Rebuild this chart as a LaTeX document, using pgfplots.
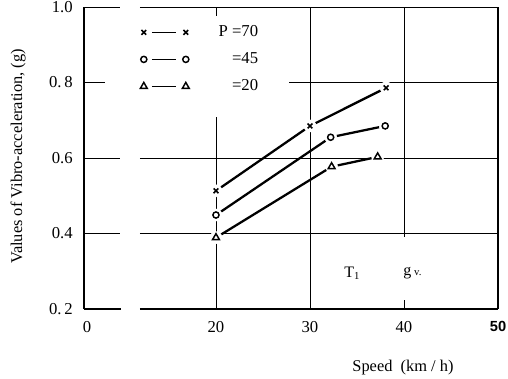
\documentclass[border=0pt]{standalone}
\usepackage{fontspec}
\setmainfont{Liberation Serif}
\setsansfont{Liberation Sans}
\usepackage{pgfplots}
\pgfplotsset{compat=1.18}
\pgfplotsset{myleg/.style={legend image code/.code={
  \draw[line width=1.2pt] (6pt,0pt) -- (24.5pt,0pt);
  \draw[##1] plot[only marks] coordinates {(0pt,0pt) (31.5pt,0pt)};}}}
\begin{document}
\begin{tikzpicture}
\begin{axis}[
  scale only axis, width=310.5pt, height=226.5pt,
  xmin=5.96, xmax=50, ymin=0.2, ymax=1.0,
  axis line style={draw=none},
  clip=false,
  major tick length=0pt,
  xtick={6.28,20,30,40,50},
  xticklabels={0,20,30,40,{\fontsize{11}{13}\sffamily\bfseries 50}},
  ytick={0.2,0.4,0.6,0.8,1.0},
  yticklabels={0.\,2,0.4,0.6,0.\,8,1.0},
  tick label style={font=\fontsize{12.5}{14}\selectfont},
  xticklabel style={yshift=-6pt},
  yticklabel style={xshift=-5pt},
  xlabel={Speed\ \ (km\ /\ h)},
  ylabel={Values of Vibro-acceleration,\ (g)},
  label style={font=\fontsize{12.3}{14}\selectfont},
  xlabel style={at={(rel axis cs:0.7705,-0.1954)}, anchor=center},
  ylabel style={at={(rel axis cs:-0.1594,0.505)}, anchor=center},
  legend style={draw=none, fill=none, at={(axis cs:11.5,0.965)}, anchor=north west,
    row sep=6.5pt, column sep=20pt, font=\fontsize{12.5}{14}\selectfont, cells={anchor=west}},
]
% frame and grid
\draw[line width=1pt] (axis cs:5.96,0.2) -- (axis cs:5.96,1.0);
\draw[line width=1pt] (axis cs:50,0.2) -- (axis cs:50,1.0);
\draw[line width=1pt] (axis cs:5.96,0.2) -- (axis cs:9.9,0.2);
\draw[line width=1pt] (axis cs:11.91,0.2) -- (axis cs:50,0.2);
\draw[line width=0.7pt] (axis cs:5.96,1.0) -- (axis cs:9.79,1.0);
\draw[line width=0.7pt] (axis cs:11.91,1.0) -- (axis cs:50,1.0);
\draw[line width=0.6pt] (axis cs:5.96,0.8) -- (axis cs:8.19,0.8);
\draw[line width=0.6pt] (axis cs:27.77,0.8) -- (axis cs:50,0.8);
\draw[line width=0.6pt] (axis cs:5.96,0.6) -- (axis cs:9.79,0.6);
\draw[line width=0.6pt] (axis cs:11.91,0.6) -- (axis cs:50,0.6);
\draw[line width=0.6pt] (axis cs:5.96,0.4) -- (axis cs:9.79,0.4);
\draw[line width=0.6pt] (axis cs:11.91,0.4) -- (axis cs:50,0.4);
\draw[line width=0.6pt] (axis cs:20,0.2) -- (axis cs:20,0.709);
\draw[line width=0.6pt] (axis cs:20,1.0) -- (axis cs:20,0.975);
\draw[line width=0.6pt] (axis cs:30,0.2) -- (axis cs:30,1.0);
\draw[line width=0.6pt] (axis cs:40,1.0) -- (axis cs:40,0.39);
\draw[line width=0.6pt] (axis cs:40,0.2) -- (axis cs:40,0.224);
% lines
\addplot[line width=1.7pt, forget plot] coordinates {(20,0.513) (30,0.685) (38.1,0.786)};
\addplot[line width=1.7pt, forget plot] coordinates {(20,0.449) (32.2,0.655) (38.0,0.685)};
\addplot[line width=1.7pt, forget plot] coordinates {(20,0.389) (32.3,0.577) (37.2,0.603)};
% gaps
\addplot[only marks, mark=*, mark size=4.5pt, white, forget plot] coordinates {
 (20,0.513) (30,0.685) (38.1,0.786)
 (20,0.449) (32.2,0.655) (38.0,0.685)
 (20,0.389) (32.3,0.577) (37.2,0.603)};
% marks
\addplot[only marks, mark=x, mark size=2.5pt, line width=1.2pt, myleg] coordinates {(20,0.513) (30,0.685) (38.1,0.786)};
\addplot[only marks, mark=o, mark size=2.3pt, line width=1.1pt, myleg] coordinates {(20,0.449) (32.2,0.655) (38.0,0.685)};
\addplot[only marks, mark=triangle, mark size=3pt, line width=1.1pt, myleg] coordinates {(20,0.389) (32.3,0.577) (37.2,0.603)};
\legend{P\ =70,\phantom{P\ }=45,\phantom{P\ }=20}
\node[font=\fontsize{12}{14}\selectfont] at (axis cs:34.5,0.295) {T\textsubscript{1}};
\node[font=\fontsize{12}{14}\selectfont] at (axis cs:40.9,0.295) {g\,{\fontsize{8}{9}\selectfont v.}};
\end{axis}
\pgfresetboundingbox
\path (-63pt,-52.5pt) rectangle (318pt,231.75pt);
\end{tikzpicture}
\end{document}
